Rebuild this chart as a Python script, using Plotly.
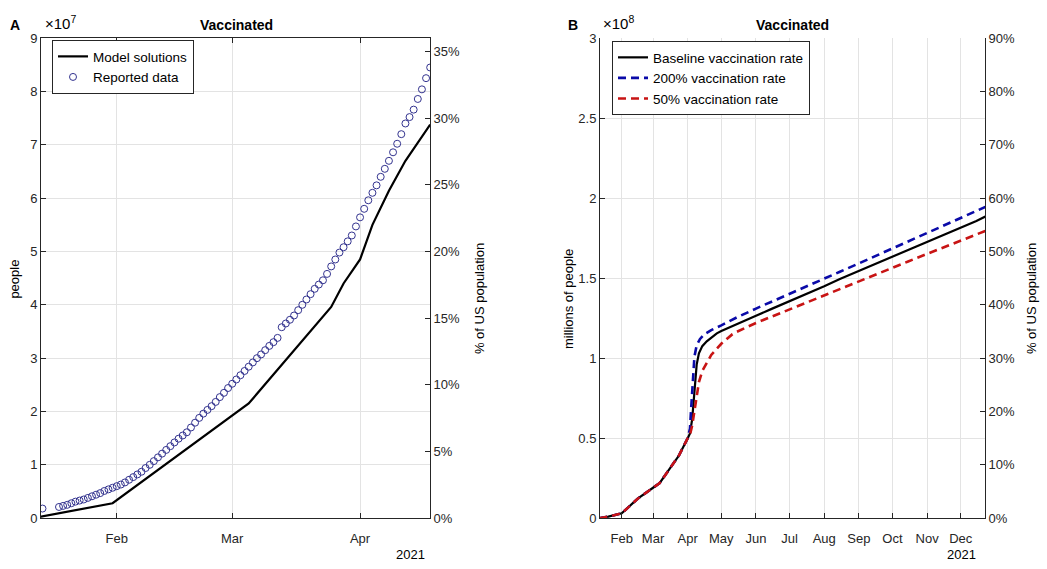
import plotly.graph_objects as go
import pandas as pd

W, H = 1047, 569
FONT = "Liberation Sans, Arial, Helvetica, sans-serif"
AX = "#262626"
GRID = "#e3e3e3"

# ---------------- Panel A data (people, x 1e7) ----------------
MODEL_A_DATES = ["2021-01-13", "2021-01-31", "2021-03-05", "2021-03-12", "2021-03-19",
                 "2021-03-25", "2021-03-28", "2021-04-01", "2021-04-04", "2021-04-08",
                 "2021-04-12", "2021-04-18"]
MODEL_A_VALUES = [0.02, 0.28, 2.15, 2.78, 3.42, 3.96, 4.40, 4.85, 5.50, 6.14, 6.70, 7.38]

REPORTED_FIRST_DATE = "2021-01-14"
REPORTED_DAILY_START = "2021-01-18"
REPORTED_VALUES = [
    0.18,
    # Jan 18 - Jan 31
    0.21, 0.23, 0.25, 0.28, 0.31, 0.33, 0.35, 0.38, 0.41, 0.44, 0.47, 0.51, 0.54, 0.57,
    # Feb
    0.60, 0.63, 0.67, 0.72, 0.77, 0.82, 0.87, 0.94, 1.00, 1.07, 1.14, 1.21, 1.28, 1.35,
    1.42, 1.49, 1.55, 1.61, 1.70, 1.79, 1.88, 1.96, 2.03, 2.10, 2.18, 2.27, 2.35, 2.44,
    # Mar
    2.52, 2.60, 2.68, 2.76, 2.84, 2.92, 3.00, 3.07, 3.15, 3.23, 3.30, 3.38, 3.58, 3.65,
    3.72, 3.80, 3.90, 4.00, 4.10, 4.20, 4.30, 4.38, 4.46, 4.58, 4.72, 4.85, 4.98, 5.08,
    5.19, 5.30, 5.47,
    # Apr 1 - Apr 18
    5.64, 5.80, 5.96, 6.10, 6.24, 6.40, 6.55, 6.70, 6.86, 7.02, 7.20, 7.40, 7.52, 7.66,
    7.86, 8.04, 8.25, 8.45,
]

A_TICK_DATES = ["2021-02-01", "2021-03-01", "2021-04-01"]
A_TICK_TEXT = ["Feb", "Mar", "Apr"]
A_LEFT_TICKS = [0, 1, 2, 3, 4, 5, 6, 7, 8, 9]
A_RIGHT_TICKS = [0, 5, 10, 15, 20, 25, 30, 35]

# ---------------- Panel B data (people, x 1e8) ----------------
B_BASE_DATES = ["2021-01-12", "2021-01-20", "2021-02-01", "2021-02-15", "2021-03-01",
                "2021-03-07", "2021-03-15", "2021-03-24", "2021-04-01", "2021-04-03",
                "2021-04-05", "2021-04-06", "2021-04-07", "2021-04-08", "2021-04-09",
                "2021-04-11", "2021-04-14", "2021-04-18", "2021-04-22", "2021-04-27",
                "2021-05-01", "2021-05-15", "2021-06-01", "2021-06-15", "2021-07-01",
                "2021-07-15", "2021-08-01", "2021-08-15", "2021-09-01", "2021-09-15",
                "2021-10-01", "2021-10-15", "2021-11-01", "2021-11-15", "2021-12-01",
                "2021-12-15", "2021-12-23"]
B_BASE_VALUES = [0.00, 0.01, 0.03, 0.12, 0.19, 0.22, 0.30, 0.39, 0.50, 0.53,
                 0.62, 0.72, 0.82, 0.90, 0.96, 1.03, 1.075, 1.105, 1.13, 1.155,
                 1.17, 1.215, 1.265, 1.308, 1.355, 1.398, 1.45, 1.495, 1.545, 1.588,
                 1.635, 1.677, 1.727, 1.768, 1.815, 1.857, 1.885]

B_HIGH_DATES = ["2021-01-12", "2021-01-20", "2021-02-01", "2021-02-15", "2021-03-01",
                "2021-03-07", "2021-03-15", "2021-03-24", "2021-04-01", "2021-04-03",
                "2021-04-04", "2021-04-05", "2021-04-06", "2021-04-07", "2021-04-09",
                "2021-04-12", "2021-04-16", "2021-04-22", "2021-05-01", "2021-05-15",
                "2021-06-01", "2021-06-15", "2021-07-01", "2021-07-15", "2021-08-01",
                "2021-08-15", "2021-09-01", "2021-09-15", "2021-10-01", "2021-10-15",
                "2021-11-01", "2021-11-15", "2021-12-01", "2021-12-15", "2021-12-23"]
B_HIGH_VALUES = [0.00, 0.01, 0.03, 0.12, 0.19, 0.22, 0.30, 0.39, 0.50, 0.56,
                 0.68, 0.82, 0.93, 1.01, 1.08, 1.12, 1.15, 1.175, 1.205, 1.255,
                 1.31, 1.352, 1.40, 1.443, 1.495, 1.54, 1.592, 1.636, 1.686, 1.73,
                 1.781, 1.824, 1.873, 1.917, 1.945]

B_LOW_DATES = ["2021-01-12", "2021-01-20", "2021-02-01", "2021-02-15", "2021-03-01",
               "2021-03-07", "2021-03-15", "2021-03-24", "2021-04-01", "2021-04-03",
               "2021-04-05", "2021-04-07", "2021-04-09", "2021-04-11", "2021-04-14",
               "2021-04-18", "2021-04-22", "2021-04-27", "2021-05-01", "2021-05-11",
               "2021-05-15", "2021-06-01", "2021-06-15", "2021-07-01", "2021-07-15",
               "2021-08-01", "2021-08-15", "2021-09-01", "2021-09-15", "2021-10-01",
               "2021-10-15", "2021-11-01", "2021-11-15", "2021-12-01", "2021-12-15",
               "2021-12-23"]
B_LOW_VALUES = [0.00, 0.01, 0.03, 0.12, 0.19, 0.22, 0.30, 0.39, 0.50, 0.52,
                0.58, 0.68, 0.78, 0.85, 0.92, 0.975, 1.02, 1.06, 1.09, 1.15,
                1.165, 1.22, 1.26, 1.305, 1.345, 1.393, 1.433, 1.48, 1.52, 1.565,
                1.604, 1.652, 1.69, 1.735, 1.773, 1.795]

B_TICK_DATES = ["2021-02-01", "2021-03-01", "2021-04-01", "2021-05-01", "2021-06-01",
                "2021-07-01", "2021-08-01", "2021-09-01", "2021-10-01", "2021-11-01",
                "2021-12-01"]
B_TICK_TEXT = ["Feb", "Mar", "Apr", "May", "Jun", "Jul", "Aug", "Sep", "Oct", "Nov", "Dec"]
B_LEFT_TICKS = [0, 0.5, 1, 1.5, 2, 2.5, 3]
B_RIGHT_TICKS = [0, 10, 20, 30, 40, 50, 60, 70, 80, 90]


def px(x):
    return x / W


def py(y):
    return 1 - y / H


reported_dates = [pd.Timestamp(REPORTED_FIRST_DATE)] + list(
    pd.date_range(REPORTED_DAILY_START, periods=len(REPORTED_VALUES) - 1, freq="D"))

fig = go.Figure()

# Panel A
fig.add_trace(go.Scatter(x=MODEL_A_DATES, y=MODEL_A_VALUES, mode="lines",
                         line=dict(color="black", width=2.2), name="Model solutions",
                         xaxis="x", yaxis="y", legend="legend"))
fig.add_trace(go.Scatter(x=reported_dates, y=REPORTED_VALUES, mode="markers",
                         marker=dict(symbol="circle-open", size=7, color="#33338f",
                                     line=dict(width=1, color="#33338f")),
                         name="Reported data", xaxis="x", yaxis="y", legend="legend"))
fig.add_trace(go.Scatter(x=["2021-02-01"], y=[0], mode="lines", xaxis="x", yaxis="y3",
                         showlegend=False, hoverinfo="skip", line=dict(width=0)))

# Panel B
fig.add_trace(go.Scatter(x=B_BASE_DATES, y=B_BASE_VALUES, mode="lines",
                         line=dict(color="black", width=2.2), name="Baseline vaccination rate",
                         xaxis="x2", yaxis="y2", legend="legend2"))
fig.add_trace(go.Scatter(x=B_HIGH_DATES, y=B_HIGH_VALUES, mode="lines",
                         line=dict(color="#0a0aa8", width=2.6, dash="8px,5px"),
                         name="200% vaccination rate",
                         xaxis="x2", yaxis="y2", legend="legend2"))
fig.add_trace(go.Scatter(x=B_LOW_DATES, y=B_LOW_VALUES, mode="lines",
                         line=dict(color="#c81414", width=2.6, dash="8px,5px"),
                         name="50% vaccination rate",
                         xaxis="x2", yaxis="y2", legend="legend2"))
fig.add_trace(go.Scatter(x=["2021-02-01"], y=[0], mode="lines", xaxis="x2", yaxis="y4",
                         showlegend=False, hoverinfo="skip", line=dict(width=0)))

tickfont = dict(family=FONT, size=13, color=AX)
common_x = dict(type="date", ticks="inside", ticklen=5, tickcolor=AX, showline=True,
                linecolor=AX, linewidth=1, showgrid=True, gridcolor=GRID, gridwidth=1,
                tickfont=tickfont, zeroline=False, ticklabelstandoff=8)
common_y = dict(ticks="inside", ticklen=5, tickcolor=AX, showline=True, linecolor=AX,
                linewidth=1, showgrid=True, gridcolor=GRID, gridwidth=1,
                tickfont=tickfont, zeroline=False)

y_dom = [py(525), py(32)]

fig.update_layout(
    width=W, height=H,
    margin=dict(l=0, r=0, t=0, b=0),
    paper_bgcolor="white", plot_bgcolor="white",
    font=dict(family=FONT, size=13, color=AX),
    xaxis=dict(common_x, domain=[px(41), px(430)], anchor="y",
               range=["2021-01-13 15:20", "2021-04-17 23:00"],
               tickvals=A_TICK_DATES, ticktext=A_TICK_TEXT, mirror="ticks"),
    yaxis=dict(common_y, domain=y_dom, anchor="x", range=[0, 9],
               tickvals=A_LEFT_TICKS, ticktext=[str(v) for v in A_LEFT_TICKS]),
    yaxis3=dict(common_y, overlaying="y", side="right", anchor="x", range=[0, 36],
                tickvals=A_RIGHT_TICKS, ticktext=[f"{v}%" for v in A_RIGHT_TICKS],
                showgrid=False),
    xaxis2=dict(common_x, domain=[px(600), px(985)], anchor="y2",
                range=["2021-01-12 14:00", "2021-12-22 17:00"],
                tickvals=B_TICK_DATES, ticktext=B_TICK_TEXT),
    yaxis2=dict(common_y, domain=y_dom, anchor="x2", range=[0, 3],
                tickvals=B_LEFT_TICKS, ticktext=[f"{v:g}" for v in B_LEFT_TICKS]),
    yaxis4=dict(common_y, overlaying="y2", side="right", anchor="x2", range=[0, 90],
                tickvals=B_RIGHT_TICKS, ticktext=[f"{v}%" for v in B_RIGHT_TICKS],
                showgrid=False),
    legend=dict(x=px(52), y=py(34), xanchor="left", yanchor="top",
                bgcolor="white", bordercolor=AX, borderwidth=1,
                font=dict(family=FONT, size=13.5, color="black"),
                tracegroupgap=0, itemwidth=30),
    legend2=dict(x=px(612), y=py(35), xanchor="left", yanchor="top",
                 bgcolor="white", bordercolor=AX, borderwidth=1,
                 font=dict(family=FONT, size=13.5, color="black"),
                 tracegroupgap=0, itemwidth=30),
    showlegend=True,
)

ann = []


def add_text(text, x, y, size=13, bold=False, angle=0, xanchor="center", yanchor="middle"):
    if bold:
        text = f"<b>{text}</b>"
    ann.append(dict(text=text, x=px(x), y=py(y), xref="paper", yref="paper",
                    showarrow=False, textangle=angle, xanchor=xanchor, yanchor=yanchor,
                    font=dict(family=FONT, size=size, color="black")))


add_text("A", 15, 18, size=14, bold=True)
add_text("B", 573, 18, size=14, bold=True)
add_text("Vaccinated", 236, 18, size=14, bold=True)
add_text("Vaccinated", 792, 18, size=14, bold=True)
add_text("×10<sup>7</sup>", 43, 16, size=15, xanchor="left")
add_text("×10<sup>8</sup>", 601, 16, size=15, xanchor="left")
add_text("people", 15, 280, angle=-90)
add_text("millions of people", 568, 300, angle=-90)
add_text("% of US population", 479, 300, angle=-90)
add_text("% of US population", 1031, 300, angle=-90)
add_text("2021", 410, 562)
add_text("2021", 961, 562)

fig.update_layout(annotations=ann)

fig.write_html("out.html")
